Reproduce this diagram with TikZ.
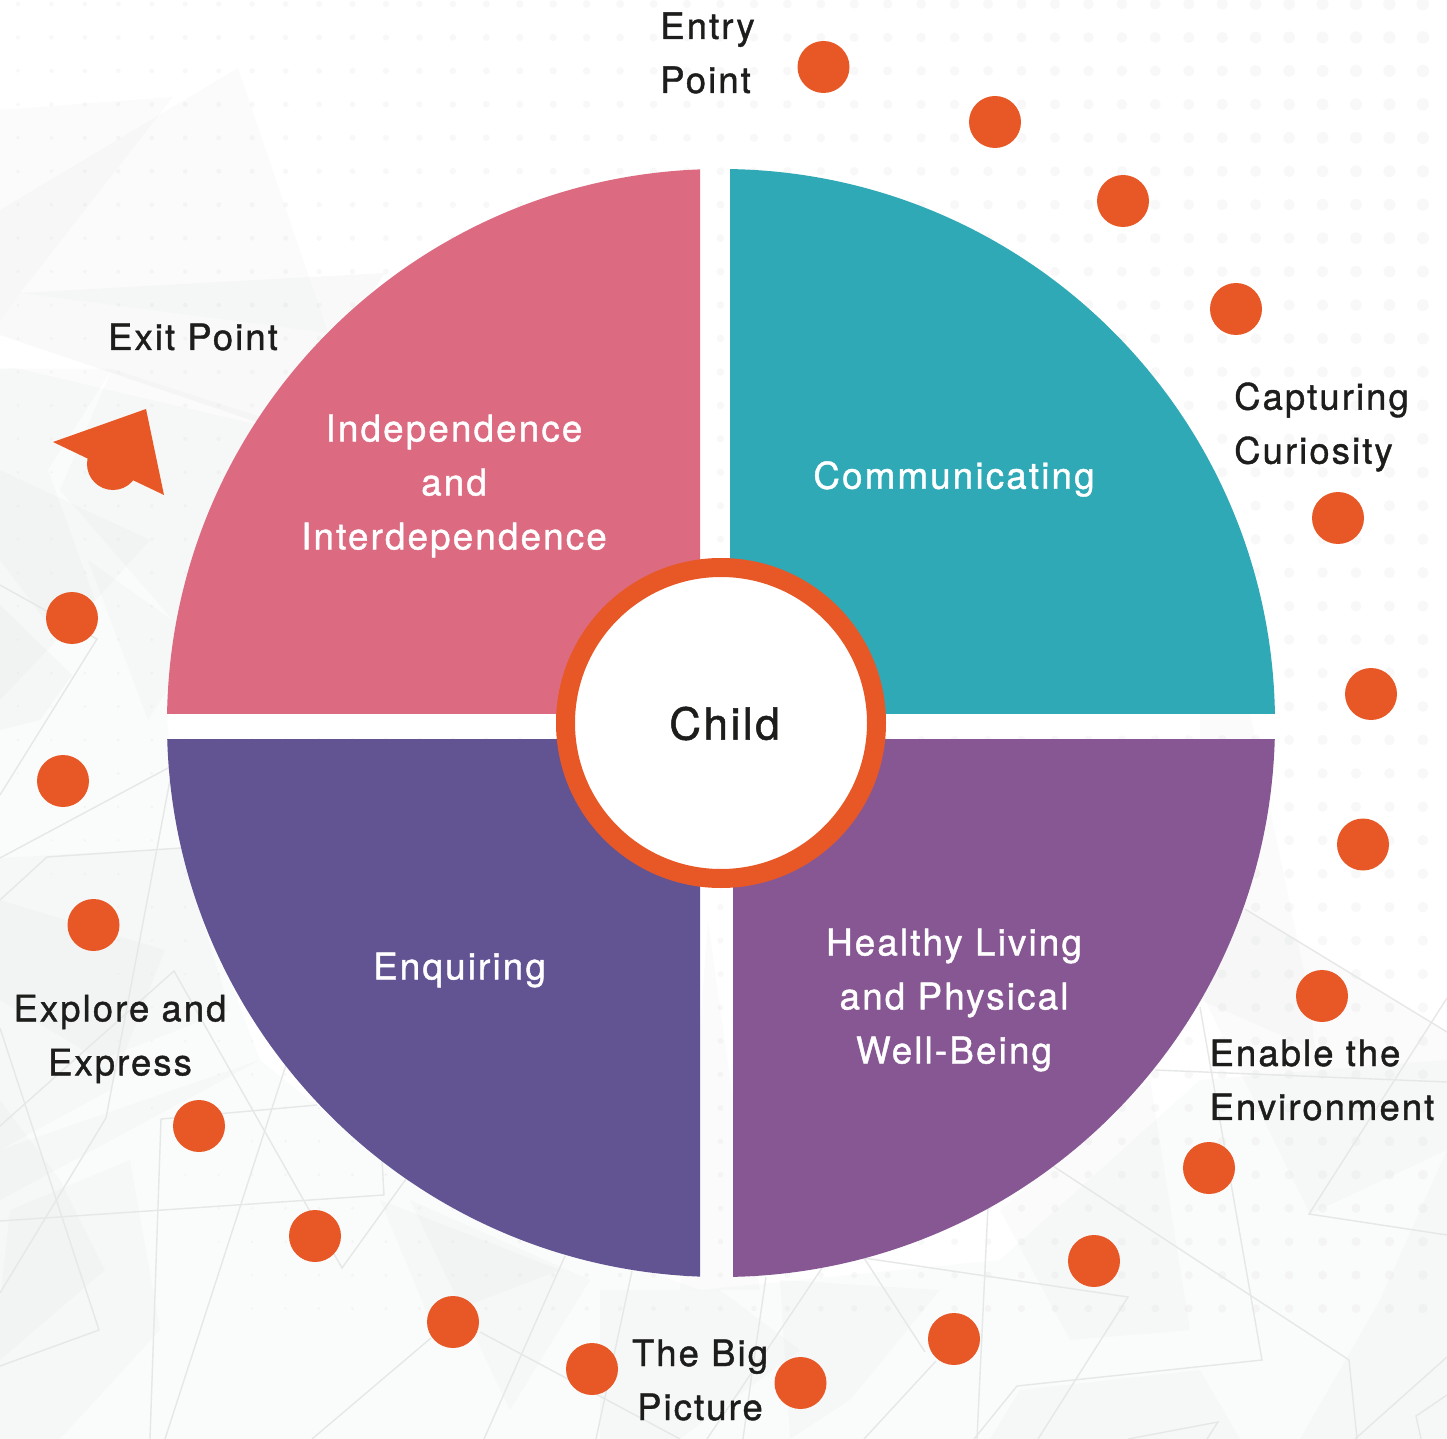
\documentclass[tikz,border=0pt]{standalone}
\usepackage{fontspec}
\setmainfont[LetterSpace=5.8,FakeBold=1.1]{TeX Gyre Heros}
\definecolor{teal1}{HTML}{2FA9B5}
\definecolor{pink1}{HTML}{DC6B81}
\definecolor{indigo1}{HTML}{625393}
\definecolor{plum1}{HTML}{875794}
\definecolor{orange1}{HTML}{E85826}
\definecolor{ink}{HTML}{1D1D1B}
\definecolor{halftone}{HTML}{F8F8F8}
\definecolor{shade}{HTML}{C9CCCC}
\definecolor{wire}{HTML}{E6E7E7}
\tikzset{
  stopdot/.style={circle,fill=orange1,inner sep=0pt,minimum size=26pt},
  wheeltext/.style={text=white,align=center,font=\fontsize{18.4}{27}\selectfont},
  outertext/.style={text=ink,font=\fontsize{18.2}{27}\selectfont},
  pz/.style={fill=shade,opacity=.08},
  pa/.style={fill=shade,opacity=.07},
  pb/.style={fill=shade,opacity=.10},
  wireline/.style={draw=wire,line width=.7pt,line join=miter}
}
\begin{document}
\begin{tikzpicture}[x=0.5pt,y=-0.5pt]
\useasboundingbox (0,0) rectangle (1447,1439);
\fill[white] (0,0) rectangle (1447,1439);
% halftone dots
\foreach \i in {0,...,42}{
  \foreach \j in {0,...,39}{
    \pgfmathsetmacro{\px}{18+33.45*\i}
    \pgfmathsetmacro{\py}{4+33.45*\j}
    \pgfmathsetmacro{\pr}{2+0.003*\px-0.0012*\py}
    \pgfmathparse{\pr>1.1 ? 1 : 0}
    \ifnum\pgfmathresult=1
      \fill[halftone] (\px,\py) circle[radius=\pr*0.5pt];
    \fi
  }
}
% broad pale ground of the facets
\fill[pz] (15,368) -- (280,430) -- (167,720) -- (181,848) -- (260,1060) -- (0,1200) -- (0,369) -- cycle;
\fill[pz] (0,1150) -- (260,1060) -- (420,1190) -- (700,1290) -- (1000,1260) -- (1200,1080) -- (1447,1060) -- (1447,1439) -- (0,1439) -- cycle;
% top left
\fill[pa] (0,110) -- (173,97) -- (20,293) -- (0,320) -- cycle;
\fill[pa] (238,68) -- (328,333) -- (20,293) -- (0,320) -- (0,210) -- cycle;
\fill[pb] (385,273) -- (20,293) -- (0,320) -- (0,335) -- (280,430) -- cycle;
% left
\fill[pa] (0,369) -- (112,369) -- (48,470) -- (95,600) -- (0,700) -- cycle;
\fill[pa] (112,369) -- (270,420) -- (190,640) -- (60,490) -- cycle;
\fill[pa] (0,470) -- (150,540) -- (60,640) -- (0,560) -- cycle;
\fill[pa] (88,560) -- (200,640) -- (148,720) -- cycle;
\fill[pb] (0,605) -- (72,675) -- (40,720) -- (0,730) -- cycle;
\fill[pa] (0,858) -- (181,848) -- (190,880) -- (230,1010) -- (100,1060) -- (0,1000) -- cycle;
\fill[pa] (0,900) -- (165,950) -- (110,1090) -- (0,1150) -- cycle;
\fill[pa] (0,1100) -- (60,1180) -- (105,1270) -- (0,1360) -- cycle;
\fill[pa] (10,1210) -- (130,1160) -- (160,1330) -- (60,1439) -- (0,1439) -- (0,1300) -- cycle;
% bottom
\fill[pa] (380,1200) -- (560,1270) -- (430,1320) -- cycle;
\fill[pa] (410,1200) -- (590,1280) -- (510,1410) -- cycle;
\fill[pa] (600,1290) -- (720,1290) -- (800,1350) -- (680,1439) -- (600,1439) -- cycle;
\fill[pa] (780,1280) -- (940,1290) -- (850,1400) -- (790,1439) -- cycle;
\fill[pa] (708,922) -- (680,1290) -- (760,1290) -- cycle;
% right
\fill[pa] (1000,1210) -- (1150,1080) -- (1190,1330) -- (1070,1340) -- cycle;
\fill[pa] (1200,990) -- (1245,909) -- (1447,1032) -- (1447,1150) -- (1310,1214) -- cycle;
\fill[pa] (1447,1150) -- (1380,1300) -- (1300,1439) -- (1447,1439) -- cycle;
\fill[pa] (1020,1390) -- (1200,1370) -- (1240,1439) -- (990,1439) -- cycle;
\fill[pa] (1200,713) -- (1250,713) -- (1310,1000) -- (1315,1050) -- (1200,1000) -- cycle;
% wire lines
\draw[wireline] (0,585) -- (97,639) -- (0,795);
\draw[wireline] (0,858) -- (170,767);
\draw[wireline] (0,900) -- (47,857) -- (181,848);
\draw[wireline] (170,780) -- (106,1118) -- (0,1293);
\draw[wireline] (0,1126) -- (174,971) -- (342,1268) -- (406,1179);
\draw[wireline] (0,1028) -- (99,1330) -- (0,1366);
\draw[wireline] (0,1221) -- (384,1195) -- (382,1159);
\draw[wireline] (150,1439) -- (161,1119) -- (317,1105);
\draw[wireline] (286,1065) -- (165,1439);
\draw[wireline] (480,1332) -- (680,1439);
\draw[wireline] (431,1338) -- (312,1439);
\draw[wireline] (565,1256) -- (484,1439);
\draw[wireline] (632,1271) -- (596,1439);
\draw[wireline] (1245,909) -- (1447,1032);
\draw[wireline] (1155,1070) -- (1447,1082);
\draw[wireline] (1200,1007) -- (1262,1360) -- (1017,1386) -- (974,1439);
\draw[wireline] (1053,1166) -- (1349,1360) -- (1357,1439);
\draw[wireline] (1038,1439) -- (1128,1297) -- (864,1258) -- (925,1352);
\draw[wireline] (936,1361) -- (864,1439);
\draw[wireline] (988,1206) -- (977,1439);
\draw[wireline] (1447,998) -- (1309,1214) -- (1447,1235);
\draw[wireline] (1447,1357) -- (1355,1439);
\draw[wireline] (1447,1395) -- (1416,1416) -- (1421,1439);
\draw[wireline] (1128,1439) -- (1218,1422) -- (1207,1439);
\draw[wireline] (766,1277) -- (752,1373) -- (743,1439);
\draw[wireline] (822,1268) -- (707,1439);
% wheel quadrants
\begin{scope}
  \clip (730,100) rectangle (1300,713);
  \fill[teal1] (721,723) circle[radius=277pt];
\end{scope}
\begin{scope}
  \clip (100,100) rectangle (700,713);
  \fill[pink1] (721,723) circle[radius=277pt];
\end{scope}
\begin{scope}
  \clip (100,739) rectangle (700,1300);
  \fill[indigo1] (721,723) circle[radius=277pt];
\end{scope}
\begin{scope}
  \clip (733,739) rectangle (1300,1300);
  \fill[plum1] (721,723) circle[radius=277pt];
\end{scope}
% centre
\node[circle,draw=orange1,fill=white,line width=9.5pt,inner sep=0pt,minimum size=155.5pt] (hub) at (721,723) {};
\node[text=ink,font=\fontsize{22}{27}\selectfont] (child) at (724.5,723.5) {Child};
% stop markers
\foreach \n/\x/\y in {s1/823.5/67,s2/995/122,s3/1123/201,s4/1236/309,s5/1338/518,s6/1371/694,s7/1363/844.5,s8/1322/996,s9/1209/1168,s10/1094/1261,s11/954/1339,s12/800.5/1383,s13/592/1369,s14/453/1322,s15/315/1236,s16/199/1126,s17/93.5/925,s18/63/781,s19/72/618,s20/113/464}
  \node[stopdot] (\n) at (\x,\y) {};
% exit arrow
\fill[orange1] (53,442) -- (146,409) -- (164,495) -- cycle;
% wheel labels
\node[wheeltext] (comm) at (954,479) {Communicating};
\node[wheeltext] (indep) at (454,486) {Independence\\and\\Interdependence};
\node[wheeltext] (enq) at (459.5,970) {Enquiring};
\node[wheeltext] (heal) at (954,1000) {Healthy Living\\and Physical\\Well-Being};
% outer labels
\node[outertext,align=left,anchor=center] (entry) at (707.5,53) {Entry\\Point};
\node[outertext] (exit) at (193,337) {Exit Point};
\node[outertext,align=left] (capt) at (1321.5,427) {Capturing\\Curiosity};
\node[outertext,align=center] (expl) at (120,1039) {Explore and\\Express};
\node[outertext,align=left] (enab) at (1322,1080) {Enable the\\Environment};
\node[outertext,align=center] (bigp) at (700,1380) {The Big\\Picture};
\end{tikzpicture}
\end{document}
